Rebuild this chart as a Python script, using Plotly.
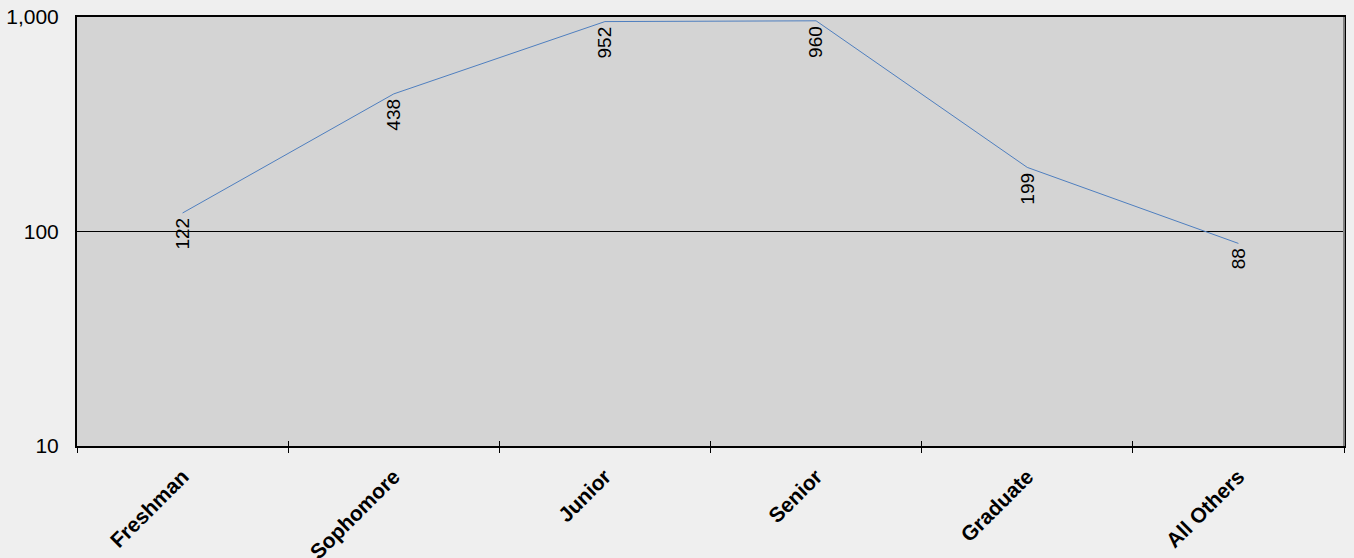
import math
import plotly.graph_objects as go

categories = ["Freshman", "Sophomore", "Junior", "Senior", "Graduate", "All Others"]
values = [122, 438, 952, 960, 199, 88]
y_tickvals = [10, 100, 1000]
y_ticktext = ["10", "100", "1,000"]

FONT = "Liberation Sans, Arial, sans-serif"

fig = go.Figure()
fig.add_trace(go.Scatter(
    x=categories, y=values, mode="lines",
    line=dict(color="#4f7fbf", width=1),
    hoverinfo="x+y", showlegend=False,
))
# invisible companion trace so the inside-tick overlay axis is drawn
fig.add_trace(go.Scatter(
    x=categories, y=values, mode="markers", xaxis="x2",
    marker=dict(opacity=0, size=1),
    hoverinfo="skip", showlegend=False,
))

for c, v in zip(categories, values):
    fig.add_annotation(
        x=c, y=math.log10(v), xref="x", yref="y",
        text=f"{v:,}", showarrow=False, textangle=-90,
        xanchor="center", yanchor="top", yshift=-3,
        font=dict(family=FONT, size=19, color="#000000"),
    )

# right border shade
fig.add_shape(type="line", xref="x domain", yref="y domain",
              x0=1, x1=1, y0=0, y1=1, line=dict(color="#808080", width=2))

fig.update_layout(
    width=1354, height=558,
    margin=dict(l=77, r=10, t=17, b=112, autoexpand=False),
    paper_bgcolor="#efefef", plot_bgcolor="#d4d4d4",
    font=dict(family=FONT, color="#000000"),
    xaxis=dict(
        type="category", tickson="boundaries", ticks="outside", ticklen=5,
        tickcolor="#000000", tickwidth=1, automargin=False,
        tickangle=-45, tickfont=dict(family=FONT, size=21, color="#000000", weight="bold"),
        ticklabelstandoff=8,
        showgrid=False, showline=True, linecolor="#000000", linewidth=2, mirror=True,
        range=[-0.5, 5.5],
    ),
    xaxis2=dict(
        type="category", overlaying="x", anchor="y", side="bottom",
        tickson="boundaries", ticks="inside", ticklen=5, tickcolor="#000000", tickwidth=1,
        showticklabels=False, showgrid=False, showline=False, range=[-0.5, 5.5],
        categoryorder="array", categoryarray=categories, automargin=False,
    ),
    yaxis=dict(
        type="log", range=[1, 3], tickvals=y_tickvals, ticktext=y_ticktext,
        tickfont=dict(family=FONT, size=21, color="#000000"),
        ticklabelstandoff=12, automargin=False,
        showgrid=True, gridcolor="#000000", gridwidth=1,
        showline=True, linecolor="#000000", linewidth=2, mirror=True,
        ticks="", zeroline=False,
    ),
)

fig.write_html(
    "out.html",
    config={"displayModeBar": False},
    post_script="document.body.style.margin='0';document.body.style.background='#efefef';",
)
